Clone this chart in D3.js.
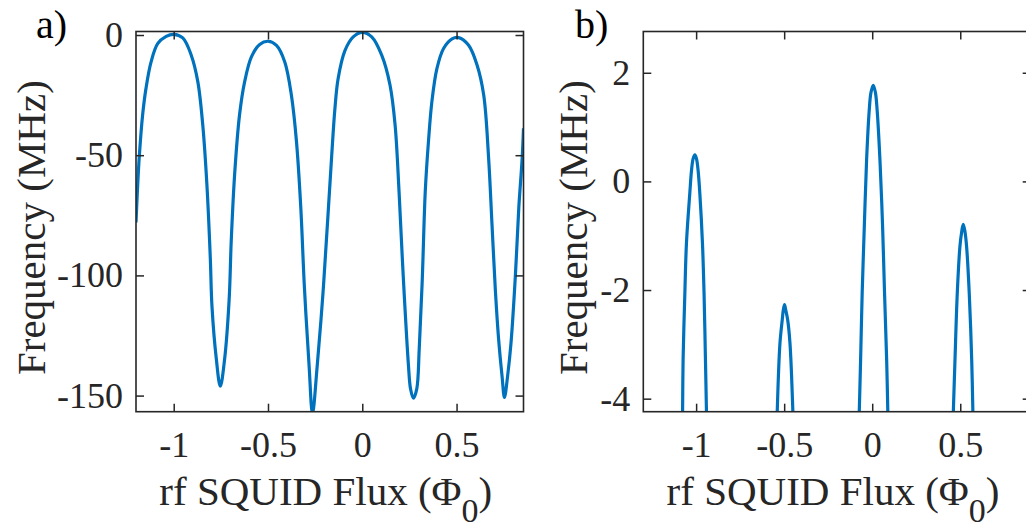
<html>
<head>
<script src="https://d3js.org/d3.v7.min.js"></script>
<style>
body { margin: 0; background: #fff; }
#chart text { font-family: serif !important; }
.axis line { stroke: #262626; stroke-width: 1.5; }
.axis .domain { display: none; }
</style>
</head>
<body>
<svg id="chart" width="1026" height="531"></svg>
<script>
// panel a: full tuning curve
const fluxA = [-1.200, -1.191, -1.182, -1.165, -1.147, -1.120, -1.085, -1.040, -1.000, -0.952,
    -0.907, -0.872, -0.846, -0.824, -0.806, -0.797, -0.774, -0.753, -0.730, -0.706,
    -0.695, -0.677, -0.651, -0.624, -0.588, -0.544, -0.500, -0.455, -0.411, -0.376,
    -0.349, -0.326, -0.307, -0.282, -0.264, -0.239, -0.209, -0.185, -0.163, -0.145,
    -0.128, -0.092, -0.048, 0.000, 0.050, 0.103, 0.147, 0.174, 0.195, 0.217,
    0.245, 0.256, 0.271, 0.289, 0.302, 0.318, 0.334, 0.351, 0.369, 0.396,
    0.431, 0.476, 0.511, 0.564, 0.609, 0.644, 0.670, 0.688, 0.706, 0.723,
    0.741, 0.754, 0.771, 0.789, 0.812, 0.830, 0.848, 0.855];
const freqA = [-78.0, -62.3, -49.9, -33.3, -22.2, -11.2, -3.6, -0.6, 0.3, -1.2,
    -8.4, -19.5, -37.4, -62.3, -92.7, -113.0, -134.8, -146.1, -134.8, -110.0,
    -85.8, -58.1, -33.3, -19.5, -9.1, -3.9, -2.6, -4.3, -11.2, -25.0,
    -44.3, -71.9, -104.8, -137.6, -157.5, -137.6, -108.0, -78.9, -51.2, -30.5,
    -18.1, -6.5, -0.8, 1.1, -0.8, -8.4, -20.8, -37.4, -65.1, -100.0,
    -137.6, -147.2, -151.1, -147.2, -130.7, -102.0, -65.1, -44.3, -27.8, -13.9,
    -5.6, -1.6, -1.1, -4.3, -12.6, -25.0, -51.2, -78.9, -106.5, -126.5,
    -141.7, -150.8, -141.7, -127.9, -100.0, -71.9, -51.2, -38.8];

// panel b: zoom on the tops, one arc per sweet spot
const fluxB = [
    [-1.077, -1.074, -1.064, -1.055, -1.036, -1.026, -1.017, -1.007, -0.998, -0.989, -0.979, -0.964, -0.955, -0.947, -0.941],
    [-0.540, -0.524, -0.511, -0.505, -0.498, -0.491, -0.480, -0.467, -0.450],
    [-0.074, -0.066, -0.057, -0.045, -0.032, -0.017, -0.007, 0.006, 0.018, 0.028, 0.044, 0.059, 0.070, 0.082, 0.089],
    [0.460, 0.470, 0.483, 0.498, 0.508, 0.517, 0.527, 0.536, 0.551, 0.565, 0.572]
];
const freqB = [
    [-4.3, -3.29, -2.06, -1.14, -0.22, 0.21, 0.42, 0.49, 0.42, 0.21, -0.22, -1.14, -2.06, -3.29, -4.3],
    [-4.3, -2.98, -2.55, -2.37, -2.27, -2.37, -2.55, -2.98, -4.3],
    [-4.3, -3.29, -2.06, -0.84, 0.39, 1.31, 1.64, 1.77, 1.64, 1.31, 0.39, -0.84, -2.06, -3.29, -4.3],
    [-4.3, -3.29, -2.06, -1.20, -0.93, -0.79, -0.93, -1.20, -2.06, -3.29, -4.3]
];

const xTicks = [-1, -0.5, 0, 0.5];
const yTicksA = [-150, -100, -50, 0];
const yTicksB = [-4, -2, 0, 2];

const svg = d3.select('svg#chart');
const plotTop = 31.5, plotBottom = 411.7;
const lineColor = '#0072BD';
const textColor = '#262626';
const serif = 'serif';

function drawPanel(p) {
    const x = d3.scaleLinear().domain(p.xDomain).range([p.left, p.right]);
    const y = d3.scaleLinear().domain(p.yDomain).range([plotBottom, plotTop]);

    svg.append('clipPath').attr('id', 'clip-' + p.id)
        .append('rect')
        .attr('x', p.left).attr('y', plotTop)
        .attr('width', p.right - p.left).attr('height', plotBottom - plotTop);

    const line = d3.line()
        .x(d => x(d[0]))
        .y(d => y(d[1]))
        .curve(d3.curveCatmullRom.alpha(0.5));

    p.flux.forEach((fs, k) => {
        const pts = fs.map((f, i) => [f, p.freq[k][i]]);
        svg.append('path')
            .datum(pts)
            .attr('clip-path', `url(#clip-${p.id})`)
            .attr('fill', 'none')
            .attr('stroke', lineColor)
            .attr('stroke-width', 3.2)
            .attr('stroke-linejoin', 'round')
            .attr('d', line);
    });

    // box
    svg.append('rect')
        .attr('x', p.left).attr('y', plotTop)
        .attr('width', p.right - p.left).attr('height', plotBottom - plotTop)
        .attr('fill', 'none')
        .attr('stroke', textColor)
        .attr('stroke-width', 1.6);

    const fmt = d => String(d);

    const bAxis = svg.append('g').attr('class', 'axis')
        .attr('transform', `translate(0,${plotBottom})`)
        .call(d3.axisBottom(x).tickValues(xTicks).tickSizeInner(-8).tickSizeOuter(0).tickFormat(fmt));
    bAxis.attr('font-family', null).attr('font-size', null);
    bAxis.selectAll('text')
        .attr('y', 45).attr('dy', null)
        .attr('font-family', serif)
        .attr('font-size', 36)
        .attr('fill', textColor);

    svg.append('g').attr('class', 'axis')
        .attr('transform', `translate(0,${plotTop})`)
        .call(d3.axisTop(x).tickValues(xTicks).tickSizeInner(-8).tickSizeOuter(0).tickFormat(''));

    const lAxis = svg.append('g').attr('class', 'axis')
        .attr('transform', `translate(${p.left},0)`)
        .call(d3.axisLeft(y).tickValues(p.yTicks).tickSizeInner(-8).tickSizeOuter(0).tickPadding(13).tickFormat(fmt));
    lAxis.attr('font-family', null).attr('font-size', null);
    lAxis.selectAll('text')
        .attr('font-family', serif)
        .attr('font-size', 36)
        .attr('fill', textColor);

    svg.append('g').attr('class', 'axis')
        .attr('transform', `translate(${p.right},0)`)
        .call(d3.axisRight(y).tickValues(p.yTicks).tickSizeInner(-8).tickSizeOuter(0).tickFormat(''));

    // x label
    const xl = svg.append('text')
        .attr('x', (p.left + p.right) / 2 - 4)
        .attr('y', 505)
        .attr('text-anchor', 'middle')
        .attr('font-family', serif)
        .attr('font-size', 41)
        .attr('fill', textColor);
    xl.append('tspan').text('rf SQUID Flux (\u03A6');
    xl.append('tspan').attr('dy', 17).attr('font-size', 34).text('0');
    xl.append('tspan').attr('dy', -17).text(')');

    // y label
    svg.append('text')
        .attr('transform', `translate(${p.yLabelX},${(plotTop + plotBottom) / 2 + 6}) rotate(-90)`)
        .attr('text-anchor', 'middle')
        .attr('font-family', serif)
        .attr('font-size', 41)
        .attr('fill', textColor)
        .text('Frequency (MHz)');

    // panel tag
    svg.append('text')
        .attr('x', p.tagX).attr('y', 38)
        .attr('font-family', serif)
        .attr('font-size', 40)
        .attr('fill', 'black')
        .text(p.tag);
}

drawPanel({id: 'a', tag: 'a)', tagX: 36, left: 136, right: 523.5,
    xDomain: [-1.2, 0.855], yDomain: [-156.7, 1.46], yTicks: yTicksA,
    yLabelX: 45, flux: [fluxA], freq: [freqA]});

drawPanel({id: 'b', tag: 'b)', tagX: 575, left: 643.3, right: 1030.7,
    xDomain: [-1.3, 0.9], yDomain: [-4.24, 2.76], yTicks: yTicksB,
    yLabelX: 587, flux: fluxB, freq: freqB});
</script>
</body>
</html>
